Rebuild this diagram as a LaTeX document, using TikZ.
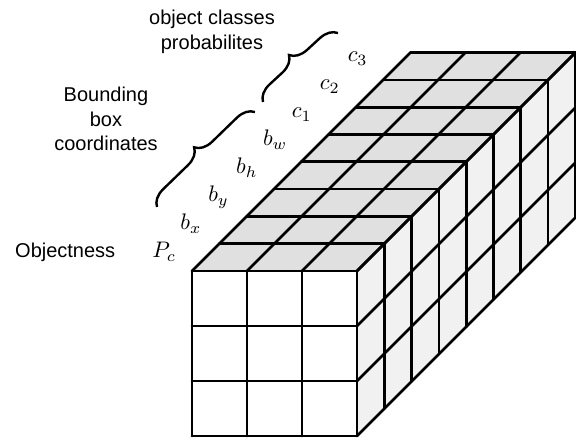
\RequirePackage{fix-cm}
\documentclass[tikz,border=0pt]{standalone}
\usepackage{fontspec}
\newfontfamily\labelsans{Liberation Sans}
\usetikzlibrary{decorations.pathreplacing}
\definecolor{topgray}{RGB}{224,224,224}
\definecolor{sidegray}{RGB}{241,241,241}
\tikzset{
  gridline/.style={line width=2.7pt, line join=round, line cap=round},
  sanslabel/.style={font=\labelsans\fontsize{20}{24.5}\selectfont, align=center, inner sep=0pt},
  mathlabel/.style={font=\fontsize{10}{12}\selectfont, scale=2.25, anchor=base west, inner sep=0pt},
  bracepath/.style={line width=2.4pt, decorate, decoration={brace, amplitude=17pt}},
}
\begin{document}
\begin{tikzpicture}[x=1pt,y=1pt]
\useasboundingbox (0,0) rectangle (576,439);
% cube
\begin{scope}[x={(55pt,0pt)}, y={(0pt,55pt)}, z={(27.3pt,27.3pt)}, shift={(192pt,3pt)}]
  \fill[white] (0,0,0) -- (3,0,0) -- (3,3,0) -- (0,3,0) -- cycle;
  \fill[topgray] (0,3,0) -- (3,3,0) -- (3,3,8) -- (0,3,8) -- cycle;
  \fill[sidegray] (3,0,0) -- (3,0,8) -- (3,3,8) -- (3,3,0) -- cycle;
  \foreach \i in {0,1,2,3} {
    \draw[gridline] (\i,0,0) -- (\i,3,0);
    \draw[gridline] (0,\i,0) -- (3,\i,0);
    \draw[gridline] (\i,3,0) -- (\i,3,8);
    \draw[gridline] (3,\i,0) -- (3,\i,8);
  }
  \foreach \k in {1,...,8} {
    \draw[gridline] (0,3,\k) -- (3,3,\k);
    \draw[gridline] (3,0,\k) -- (3,3,\k);
  }
\end{scope}
% layer labels
\node[mathlabel] (pc) at (152,181) {$P_c$};
\node[mathlabel] (bx) at (179.9,209) {$b_x$};
\node[mathlabel] (by) at (207.8,237) {$b_y$};
\node[mathlabel] (bh) at (235.7,265) {$b_h$};
\node[mathlabel] (bw) at (262.6,293) {$b_w$};
\node[mathlabel] (c1) at (291.5,321) {$c_1$};
\node[mathlabel] (c2) at (319.4,349) {$c_2$};
\node[mathlabel] (c3) at (347.3,377) {$c_3$};
% text
\node[sanslabel, anchor=base west] (obj) at (15,181) {Objectness};
\node[sanslabel] (bbox) at (106,320) {Bounding\\box\\coordinates};
\node[sanslabel] (cls) at (212,407) {object classes\\probabilites};
% braces
\coordinate (b1s) at (157,232);
\coordinate (b1e) at (255,327);
\coordinate (b2s) at (263,337);
\coordinate (b2e) at (338,406);
\draw[bracepath] (b1s) -- (b1e);
\draw[bracepath] (b2s) -- (b2e);
\end{tikzpicture}
\end{document}
